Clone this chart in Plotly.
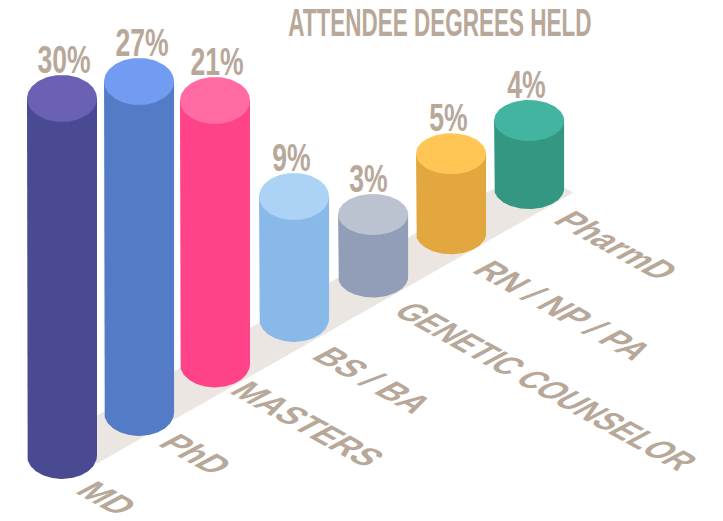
import numpy as np
import plotly.graph_objects as go

# ---- data ----
categories = ["MD", "PhD", "MASTERS", "BS / BA", "GENETIC COUNSELOR", "RN / NP / PA", "PharmD"]
percent_values = [30, 27, 21, 9, 3, 5, 4]
# drawn height of every cylinder (the picture is not strictly proportional), in chart units
cylinder_heights = [357, 331, 263.5, 122, 62.5, 80, 68]

# ---- styles ----
body_colors = ["#4a4a92", "#547cc6", "#ff4389", "#89b9e9", "#929eb8", "#e2a83f", "#339781"]
cap_colors = ["#6a60b4", "#729cf2", "#ff6ba2", "#acd2f5", "#bcc3d0", "#ffc555", "#42b49f"]
TEXT = "#b8a899"
FLOOR = "#ebe6e2"
FONT = "Liberation Sans"

# ---- oblique layout ----
X0, DX = 62.0, 77.85
Y0, DY = 455.5, -44.3
RX = 35.0
x_nudge = [0, -0.8, -2.7, -1.5, -0.3, -0.2, 0]
y_nudge = [0, 1.3, -2.9, -4.1, -1.3, -0.3, -1.2]
cap_ry = [23.5, 23.5, 23.5, 23.5, 20.5, 20.5, 20.5]
percent_dx = [1.5, 2.5, 2, -2.5, -5, -3, -2.5]
label_offsets = [(45, 42.5), (57, 41.5), (93, 60), (79, 61.5), (173, 109), (112, 77), (87, 57)]

fig = go.Figure()
n = len(categories)
cx = [X0 + DX * i + x_nudge[i] for i in range(n)]
cy = [Y0 + DY * i + y_nudge[i] for i in range(n)]

# floor band
slope = DY / DX
fx0, fy0 = X0, Y0
fxn, fyn = X0 + DX * (n - 1), Y0 + DY * (n - 1)
fx = [fx0 + 35, fxn + 44, fxn + 1, fx0]
fy = [fy0 + 28 + slope * 35, fyn + 28 + slope * 44, fyn - 22, fy0 - 20]
fig.add_trace(go.Scatter(x=fx, y=fy, mode="lines", fill="toself", fillcolor=FLOOR,
                         line=dict(width=0), hoverinfo="skip", showlegend=False))

t = np.linspace(0, 2 * np.pi, 121)
annotations = []
for i in range(n):
    ry = cap_ry[i]
    top = cy[i] - cylinder_heights[i]
    arc = np.linspace(np.pi, 0, 81)
    bx = cx[i] + RX * np.cos(arc)
    by = cy[i] + ry * np.sin(arc)
    xs = np.concatenate([[cx[i] - RX], bx, [cx[i] + RX]])
    ys = np.concatenate([[top], by, [top]])
    fig.add_trace(go.Scatter(x=xs, y=ys, mode="lines", fill="toself", fillcolor=body_colors[i],
                             line=dict(width=0), hoverinfo="skip", showlegend=False,
                             name=categories[i]))
    fig.add_trace(go.Scatter(x=cx[i] + RX * np.cos(t), y=top + ry * np.sin(t), mode="lines",
                             fill="toself", fillcolor=cap_colors[i], line=dict(width=0),
                             hoverinfo="skip", showlegend=False))
    annotations.append(dict(x=cx[i] + percent_dx[i], y=top - ry - 15.5, text=f"{percent_values[i]}%",
                            showarrow=False, xref="x", yref="y", xanchor="center", yanchor="middle",
                            font=dict(family=FONT, size=38, color=TEXT, weight="bold")))
    annotations.append(dict(x=cx[i] + label_offsets[i][0], y=cy[i] + label_offsets[i][1],
                            text=categories[i], showarrow=False, textangle=29,
                            xref="x", yref="y", xanchor="center", yanchor="middle",
                            font=dict(family=FONT, size=31, color=TEXT, weight="bold")))

annotations.append(dict(x=439.5, y=22, text="ATTENDEE DEGREES HELD", showarrow=False,
                        xref="x", yref="y", xanchor="center", yanchor="middle",
                        font=dict(family=FONT, size=39, color=TEXT, weight="bold")))

fig.update_layout(
    width=723, height=521, autosize=False,
    margin=dict(l=0, r=0, t=0, b=0),
    paper_bgcolor="white", plot_bgcolor="white",
    xaxis=dict(range=[0, 723], visible=False, fixedrange=True),
    yaxis=dict(range=[521, 0], visible=False, fixedrange=True),
    annotations=annotations,
    showlegend=False,
)

# the reference's display face is much narrower than any installed font, and its floor labels
# are sheared onto the floor plane: transform the real text accordingly
post = """
document.body.style.margin='0';document.body.style.overflow='hidden';
function condense(){
  document.querySelectorAll('.annotation-text').forEach(function(t){
    var s=t.textContent, sx=1.03, skew=-33;
    if(s.slice(-1)==='%'){ sx=0.70; skew=0; }
    else if(s.indexOf('ATTENDEE')===0){ sx=0.577; skew=0; }
    else if(s.indexOf('GENETIC')===0){ sx=0.95; }
    var b=t.getBBox(), c=b.x+b.width/2, m=b.y+b.height/2;
    t.setAttribute('transform','translate('+c+' '+m+') skewX('+skew+') scale('+sx+' 1) translate('+(-c)+' '+(-m)+')');
  });
}
condense(); setTimeout(condense,0); setTimeout(condense,200);
"""
fig.write_html("out.html", config={"displayModeBar": False}, post_script=post)
